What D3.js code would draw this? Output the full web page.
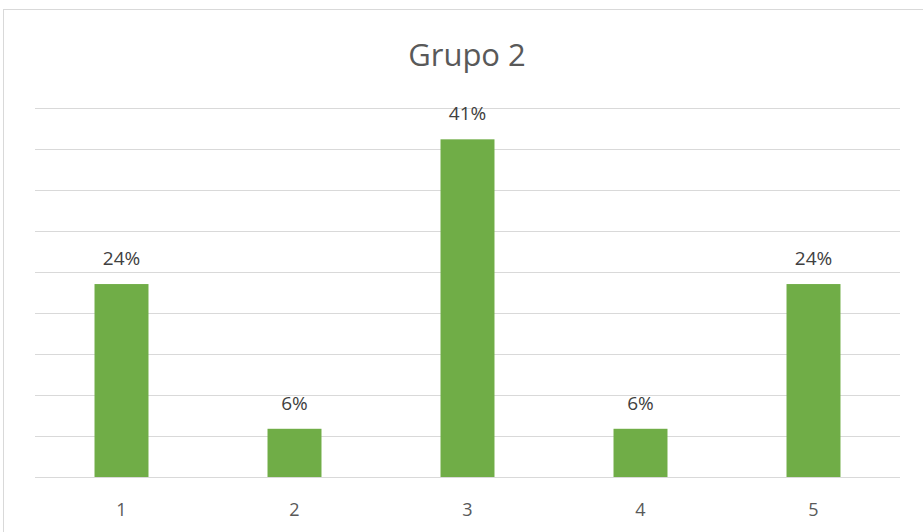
<!DOCTYPE html>
<html><head><meta charset="utf-8">
<script src="https://cdn.jsdelivr.net/npm/d3@7"></script>
<style>body{margin:0;background:#fff;}svg{display:block;}</style>
</head><body>
<svg id="c" width="923" height="532"></svg>
<script>
const categories = ["1","2","3","4","5"];
const values = [23.53, 5.88, 41.18, 5.88, 23.53];
const labels = ["24%","6%","41%","6%","24%"];
const yTicks = [0,5,10,15,20,25,30,35,40,45];
const title = "Grupo 2";

const svg = d3.select("#c");
const font = "Open Sans, Lato, sans-serif";
// chart border
svg.append("rect").attr("x",3.5).attr("y",9.5).attr("width",930).attr("height",540)
  .attr("fill","#fff").attr("stroke","#d9d9d9").attr("stroke-width",1);

const x = d3.scaleBand().domain(categories).range([35,900]).padding(0);
const y = d3.scaleLinear().domain([0,45]).range([477,108]);
const bw = x.bandwidth()*0.312;

svg.append("g").selectAll("line").data(yTicks).join("line")
  .attr("x1",35).attr("x2",900)
  .attr("y1",d=>Math.round(y(d))+0.5).attr("y2",d=>Math.round(y(d))+0.5)
  .attr("stroke","#d9d9d9").attr("stroke-width",1);

svg.append("g").selectAll("rect").data(values).join("rect")
  .attr("x",(d,i)=>x(categories[i])+x.bandwidth()/2-bw/2)
  .attr("width",bw)
  .attr("y",d=>y(d)).attr("height",d=>y(0)-y(d))
  .attr("fill","#70ad47");

svg.append("g").selectAll("text").data(values).join("text")
  .attr("x",(d,i)=>x(categories[i])+x.bandwidth()/2)
  .attr("y",d=>y(d)-19)
  .attr("text-anchor","middle").attr("font-family",font).attr("font-size",19)
  .attr("fill","#404040").text((d,i)=>labels[i]);

const xa = svg.append("g").attr("transform","translate(0,477)")
  .call(d3.axisBottom(x).tickSize(0));
xa.select(".domain").remove();
xa.selectAll("text").attr("y",39).attr("dy",0)
  .attr("font-family",font).attr("font-size",18).attr("fill","#595959");

svg.append("text").attr("x",467).attr("y",66).attr("text-anchor","middle")
  .attr("font-family",font).attr("font-size",31).attr("fill","#595959").text(title);
</script>
</body></html>
